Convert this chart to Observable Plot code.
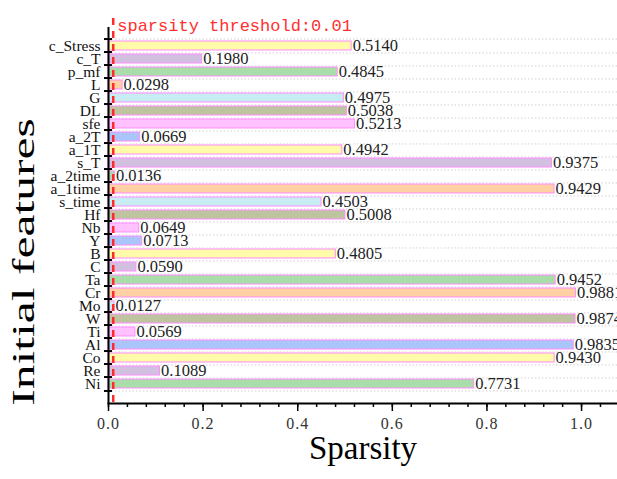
<!DOCTYPE html>
<html><head><meta charset="utf-8">
<script src="https://cdn.jsdelivr.net/npm/d3@7"></script>
<script src="https://cdn.jsdelivr.net/npm/@observablehq/plot@0.6"></script>
<style>body{margin:0;background:#fff}</style>
</head><body><div id="chart"></div>
<script>
const features = ["c_Stress","c_T","p_mf","L","G","DL","sfe","a_2T","a_1T","s_T","a_2time","a_1time","s_time","Hf","Nb","Y","B","C","Ta","Cr","Mo","W","Ti","Al","Co","Re","Ni"];
const sparsity = [0.5140,0.1980,0.4845,0.0298,0.4975,0.5038,0.5213,0.0669,0.4942,0.9375,0.0136,0.9429,0.4503,0.5008,0.0649,0.0713,0.4805,0.0590,0.9452,0.9881,0.0127,0.9874,0.0569,0.9835,0.9430,0.1089,0.7731];
const palette = ["#FFFBA8","#D1C0E0","#A9DDA9","#FFD0A3","#C7EDF3","#BEC49F","#FFC1FF","#A9C5FA"];
const threshold = 0.01;
const thresholdLabel = "sparsity threshold:0.01";
const majorTicks = [0, 0.2, 0.4, 0.6, 0.8, 1.0];
const minorTicks = [0,0.04,0.08,0.12,0.16,0.2,0.24,0.28,0.32,0.36,0.4,0.44,0.48,0.52,0.56,0.6,0.64,0.68,0.72,0.76,0.8,0.84,0.88,0.92,0.96,1.0,1.04];
const xTitle = "Sparsity";
const yTitle = "Initial features";

const data = features.map((name, i) => ({name, value: sparsity[i], color: palette[i % palette.length]}));

const W = 617, H = 479, mL = 108, mT = 27, mB = 76, mR = 0;
const step = (H - mT - mB) / features.length;
const tickHalf = 4 / ((W - mL - mR) / 1.076);

const chart = Plot.plot({
  width: W, height: H,
  marginLeft: mL, marginTop: mT, marginBottom: mB, marginRight: mR,
  style: {fontFamily: "Liberation Serif", fontSize: "16px", background: "#fff", overflow: "visible"},
  x: {domain: [0, 1.076], label: null},
  y: {domain: features, paddingInner: 0.28, paddingOuter: 0.14, label: null},
  marks: [
    Plot.ruleY(features, {y: d => d, dy: step / 2, stroke: "#c8c8c8", strokeWidth: 0.8, strokeDasharray: "1.5,2"}),
    Plot.ruleY([features[0]], {y: d => d, dy: -step / 2, stroke: "#c8c8c8", strokeWidth: 0.8, strokeDasharray: "1.5,2"}),
    Plot.barX(data, {x: "value", y: "name", fill: "color", stroke: "#FF8CFF", strokeWidth: 1}),
    Plot.text(data, {x: "value", y: "name", text: d => d.value.toFixed(4), textAnchor: "start", dx: 1, fontSize: 16.5, fill: "#222", style: "letter-spacing:1.2px"}),
    Plot.ruleX([threshold], {stroke: "#FF2A2A", strokeWidth: 2.5, strokeDasharray: "7,6", insetTop: -9}),
    Plot.text([thresholdLabel], {x: () => threshold, frameAnchor: "top", dy: -9, dx: 4, textAnchor: "start", fill: "#FF3030", fontSize: 17, fontFamily: "Liberation Mono"}),
    Plot.ruleX([0], {stroke: "#000", strokeWidth: 2}),
    Plot.frame({anchor: "bottom", stroke: "#000", strokeWidth: 2}),
    Plot.ruleY(features, {y: d => d, dy: -step / 2, x1: -tickHalf, x2: tickHalf, stroke: "#000", strokeWidth: 2}),
    Plot.ruleY([features[features.length - 1]], {y: d => d, dy: step / 2, x1: -tickHalf, x2: tickHalf, stroke: "#000", strokeWidth: 2}),
    Plot.axisY({tickSize: 0, tickPadding: 8, fontSize: 15.5, label: null, fill: "#111"}),
    Plot.axisX({ticks: minorTicks, tickSize: 4, tickFormat: () => "", strokeWidth: 1.5, label: null}),
    Plot.axisX({ticks: majorTicks, tickSize: 8, tickPadding: 6, tickFormat: d => d.toFixed(1), strokeWidth: 1.5, fontSize: 16, label: null, fill: "#333"}),
    Plot.text([xTitle], {frameAnchor: "bottom", dy: 55, fontSize: 33, fill: "#000"})
  ]
});
document.getElementById("chart").appendChild(chart);
d3.select(chart).append("text")
  .attr("transform", `translate(${mL - 84},${(mT + H - mB) / 2 + 47}) rotate(-90) scale(1.55,1)`)
  .attr("text-anchor", "middle")
  .attr("dy", "0.32em")
  .attr("font-family", "Liberation Serif")
  .attr("font-size", 32)
  .attr("fill", "#000")
  .text(yTitle);
d3.select(chart).selectAll("text").filter(function() { return /^\d\.\d$/.test(this.textContent); })
  .style("letter-spacing", "1px");
</script>
</body></html>
